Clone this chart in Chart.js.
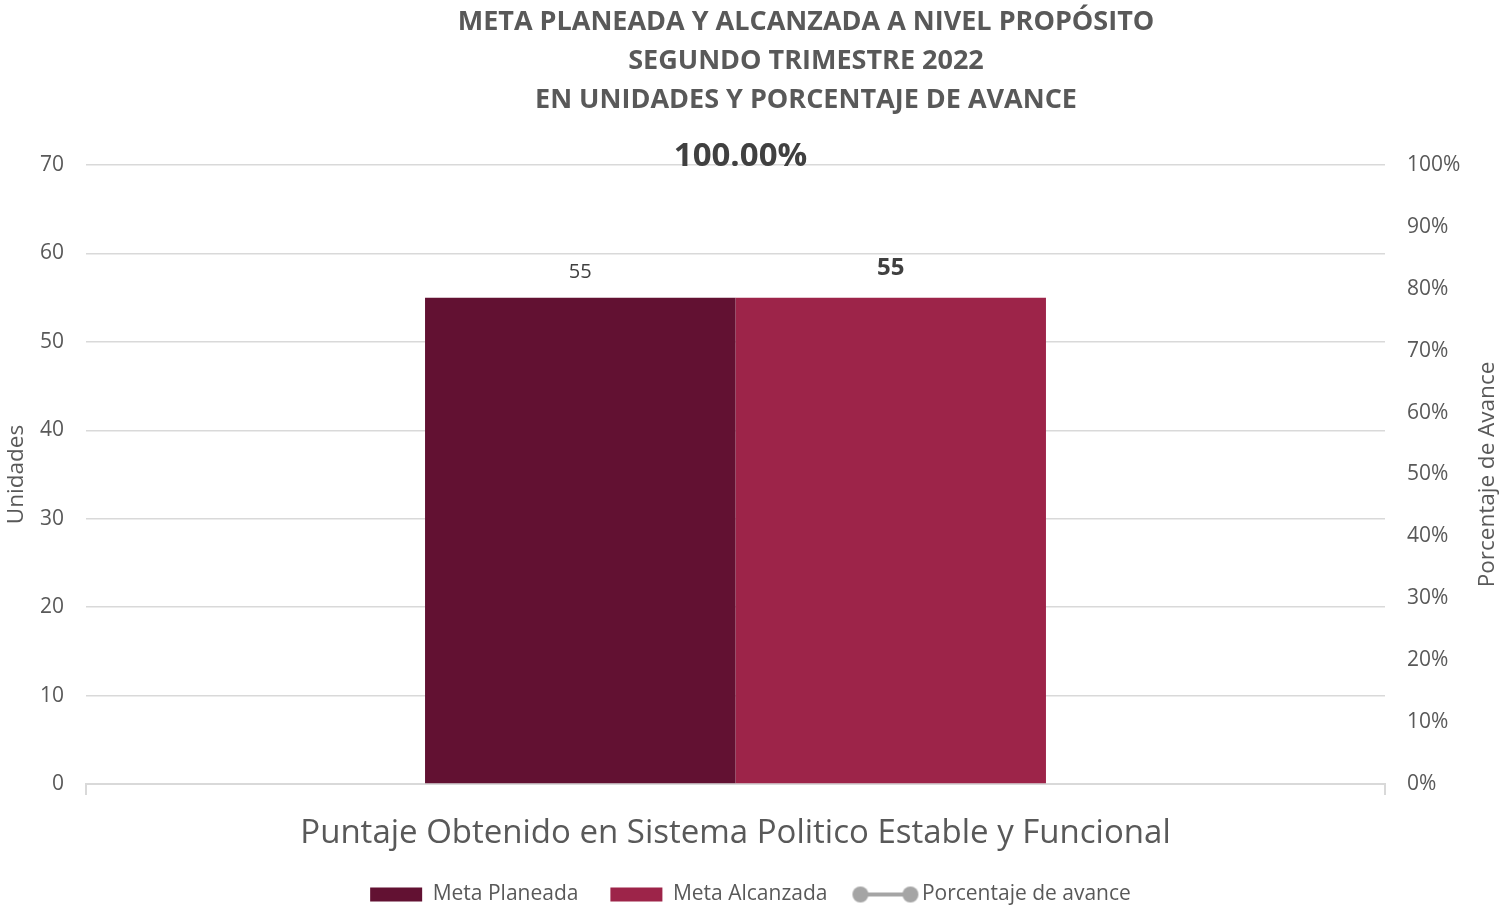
<!DOCTYPE html>
<html>
<head>
<meta charset="utf-8">
<script src="https://cdn.jsdelivr.net/npm/chart.js@4"></script>
<style>
  html, body { margin: 0; padding: 0; background: #fff; }
  #wrap { width: 1501px; height: 908px; }
</style>
</head>
<body>
<div id="wrap"><canvas id="barChart"></canvas></div>
<script>
// Datos del trimestre
const categorias = ['Puntaje Obtenido en Sistema Politico Estable y Funcional'];
const metaPlaneada = [55];
const metaAlcanzada = [55];
const porcentajeAvance = [100];
const etiquetaAvance = ['100.00%'];
const titulo = [
  'META PLANEADA Y ALCANZADA A NIVEL PROPÓSITO',
  'SEGUNDO TRIMESTRE 2022',
  'EN UNIDADES Y PORCENTAJE DE AVANCE'
];
const tituloDerecho = 'Porcentaje de Avance';

const FONT = "'Open Sans', sans-serif";
const GRIS = '#595959';

// icono de leyenda para la linea (linea con dos circulos)
function lineIcon() {
  const c = document.createElement('canvas');
  c.width = 68; c.height = 20;
  const ctx = c.getContext('2d');
  ctx.strokeStyle = '#a5a5a5';
  ctx.fillStyle = '#a5a5a5';
  ctx.lineWidth = 4;
  ctx.beginPath(); ctx.moveTo(9, 10); ctx.lineTo(59, 10); ctx.stroke();
  ctx.beginPath(); ctx.arc(9, 10, 8, 0, Math.PI * 2); ctx.fill();
  ctx.beginPath(); ctx.arc(59, 10, 8, 0, Math.PI * 2); ctx.fill();
  return c;
}

const titlePlugin = {
  id: 'titulo',
  afterDraw(chart) {
    const ctx = chart.ctx;
    ctx.save();
    ctx.font = 'bold 27px ' + FONT;
    ctx.fillStyle = GRIS;
    ctx.textAlign = 'center';
    ctx.textBaseline = 'middle';
    titulo.forEach((t, i) => ctx.fillText(t, 806, 22 + i * 39));
    // titulo del eje derecho, leido de abajo hacia arriba
    const a = chart.chartArea;
    ctx.font = '22.5px ' + FONT;
    ctx.translate(1488, (a.top + a.bottom) / 2);
    ctx.rotate(-Math.PI / 2);
    ctx.fillText(tituloDerecho, 0, 0);
    ctx.restore();
  }
};

const labelPlugin = {
  id: 'etiquetas',
  afterDatasetsDraw(chart) {
    const ctx = chart.ctx;
    ctx.save();
    ctx.textAlign = 'center';
    ctx.textBaseline = 'middle';
    ctx.fillStyle = '#404040';
    const b0 = chart.getDatasetMeta(0).data[0];
    ctx.font = '20px ' + FONT;
    ctx.fillText(String(metaPlaneada[0]), b0.x, b0.y - 25);
    const b1 = chart.getDatasetMeta(1).data[0];
    ctx.font = 'bold 24px ' + FONT;
    ctx.fillText(String(metaAlcanzada[0]), b1.x, b1.y - 29);
    const p = chart.getDatasetMeta(2).data[0];
    ctx.font = 'bold 33px ' + FONT;
    ctx.fillText(etiquetaAvance[0], p.x + 5, p.y - 8);
    ctx.restore();
  }
};

const icono = lineIcon();

new Chart(document.getElementById('barChart'), {
  type: 'bar',
  data: {
    labels: categorias,
    datasets: [{
      label: 'Meta Planeada',
      data: metaPlaneada,
      backgroundColor: '#621132',
      yAxisID: 'y',
      order: 2
    }, {
      label: 'Meta Alcanzada',
      data: metaAlcanzada,
      backgroundColor: '#9d2449',
      yAxisID: 'y',
      order: 2
    }, {
      type: 'line',
      label: 'Porcentaje de avance',
      data: porcentajeAvance,
      borderColor: '#a5a5a5',
      backgroundColor: '#a5a5a5',
      pointRadius: 0,
      yAxisID: 'y1',
      order: 1
    }]
  },
  options: {
    responsive: true,
    maintainAspectRatio: false,
    animation: false,
    categoryPercentage: 0.478,
    barPercentage: 1,
    layout: { padding: { top: 165, bottom: 0, left: 0, right: 0 } },
    plugins: {
      title: { display: false },
      tooltip: { enabled: false },
      legend: {
        position: 'bottom',
        maxHeight: 56,
        labels: {
          usePointStyle: true,
          pointStyleWidth: 52,
          boxHeight: 14,
          padding: 32,
          color: GRIS,
          font: { family: FONT, size: 21 },
          generateLabels() {
            return [
              { text: 'Meta Planeada', fillStyle: '#621132', strokeStyle: '#621132', lineWidth: 0, pointStyle: 'rect', fontColor: GRIS, datasetIndex: 0 },
              { text: 'Meta Alcanzada', fillStyle: '#9d2449', strokeStyle: '#9d2449', lineWidth: 0, pointStyle: 'rect', fontColor: GRIS, datasetIndex: 1 },
              { text: 'Porcentaje de avance', fillStyle: '#a5a5a5', strokeStyle: '#a5a5a5', lineWidth: 0, pointStyle: icono, fontColor: GRIS, datasetIndex: 2 }
            ];
          }
        }
      }
    },
    scales: {
      x: {
        grid: { drawOnChartArea: false, drawTicks: true, tickLength: 11, color: '#d9d9d9', lineWidth: 2 },
        border: { color: '#d9d9d9', width: 2 },
        ticks: { color: GRIS, font: { family: FONT, size: 33 }, padding: 19 },
        afterFit(scale) { scale.height = 68; }
      },
      y: {
        position: 'left',
        min: 0, max: 70,
        ticks: { stepSize: 10, color: GRIS, font: { family: FONT, size: 21 }, padding: 22 },
        grid: { color: '#d9d9d9', lineWidth: 1.5, drawTicks: false },
        border: { display: false },
        title: { display: true, text: 'Unidades', color: GRIS, font: { family: FONT, size: 22.5 }, padding: 3 },
        afterFit(scale) { scale.width = 86; }
      },
      y1: {
        position: 'right',
        min: 0, max: 100,
        ticks: { stepSize: 10, color: GRIS, font: { family: FONT, size: 21 }, padding: 22, callback: v => v + '%' },
        grid: { drawOnChartArea: false, drawTicks: false },
        border: { display: false },
        afterFit(scale) { scale.width = 116; }
      }
    }
  },
  plugins: [titlePlugin, labelPlugin]
});
</script>
</body>
</html>
